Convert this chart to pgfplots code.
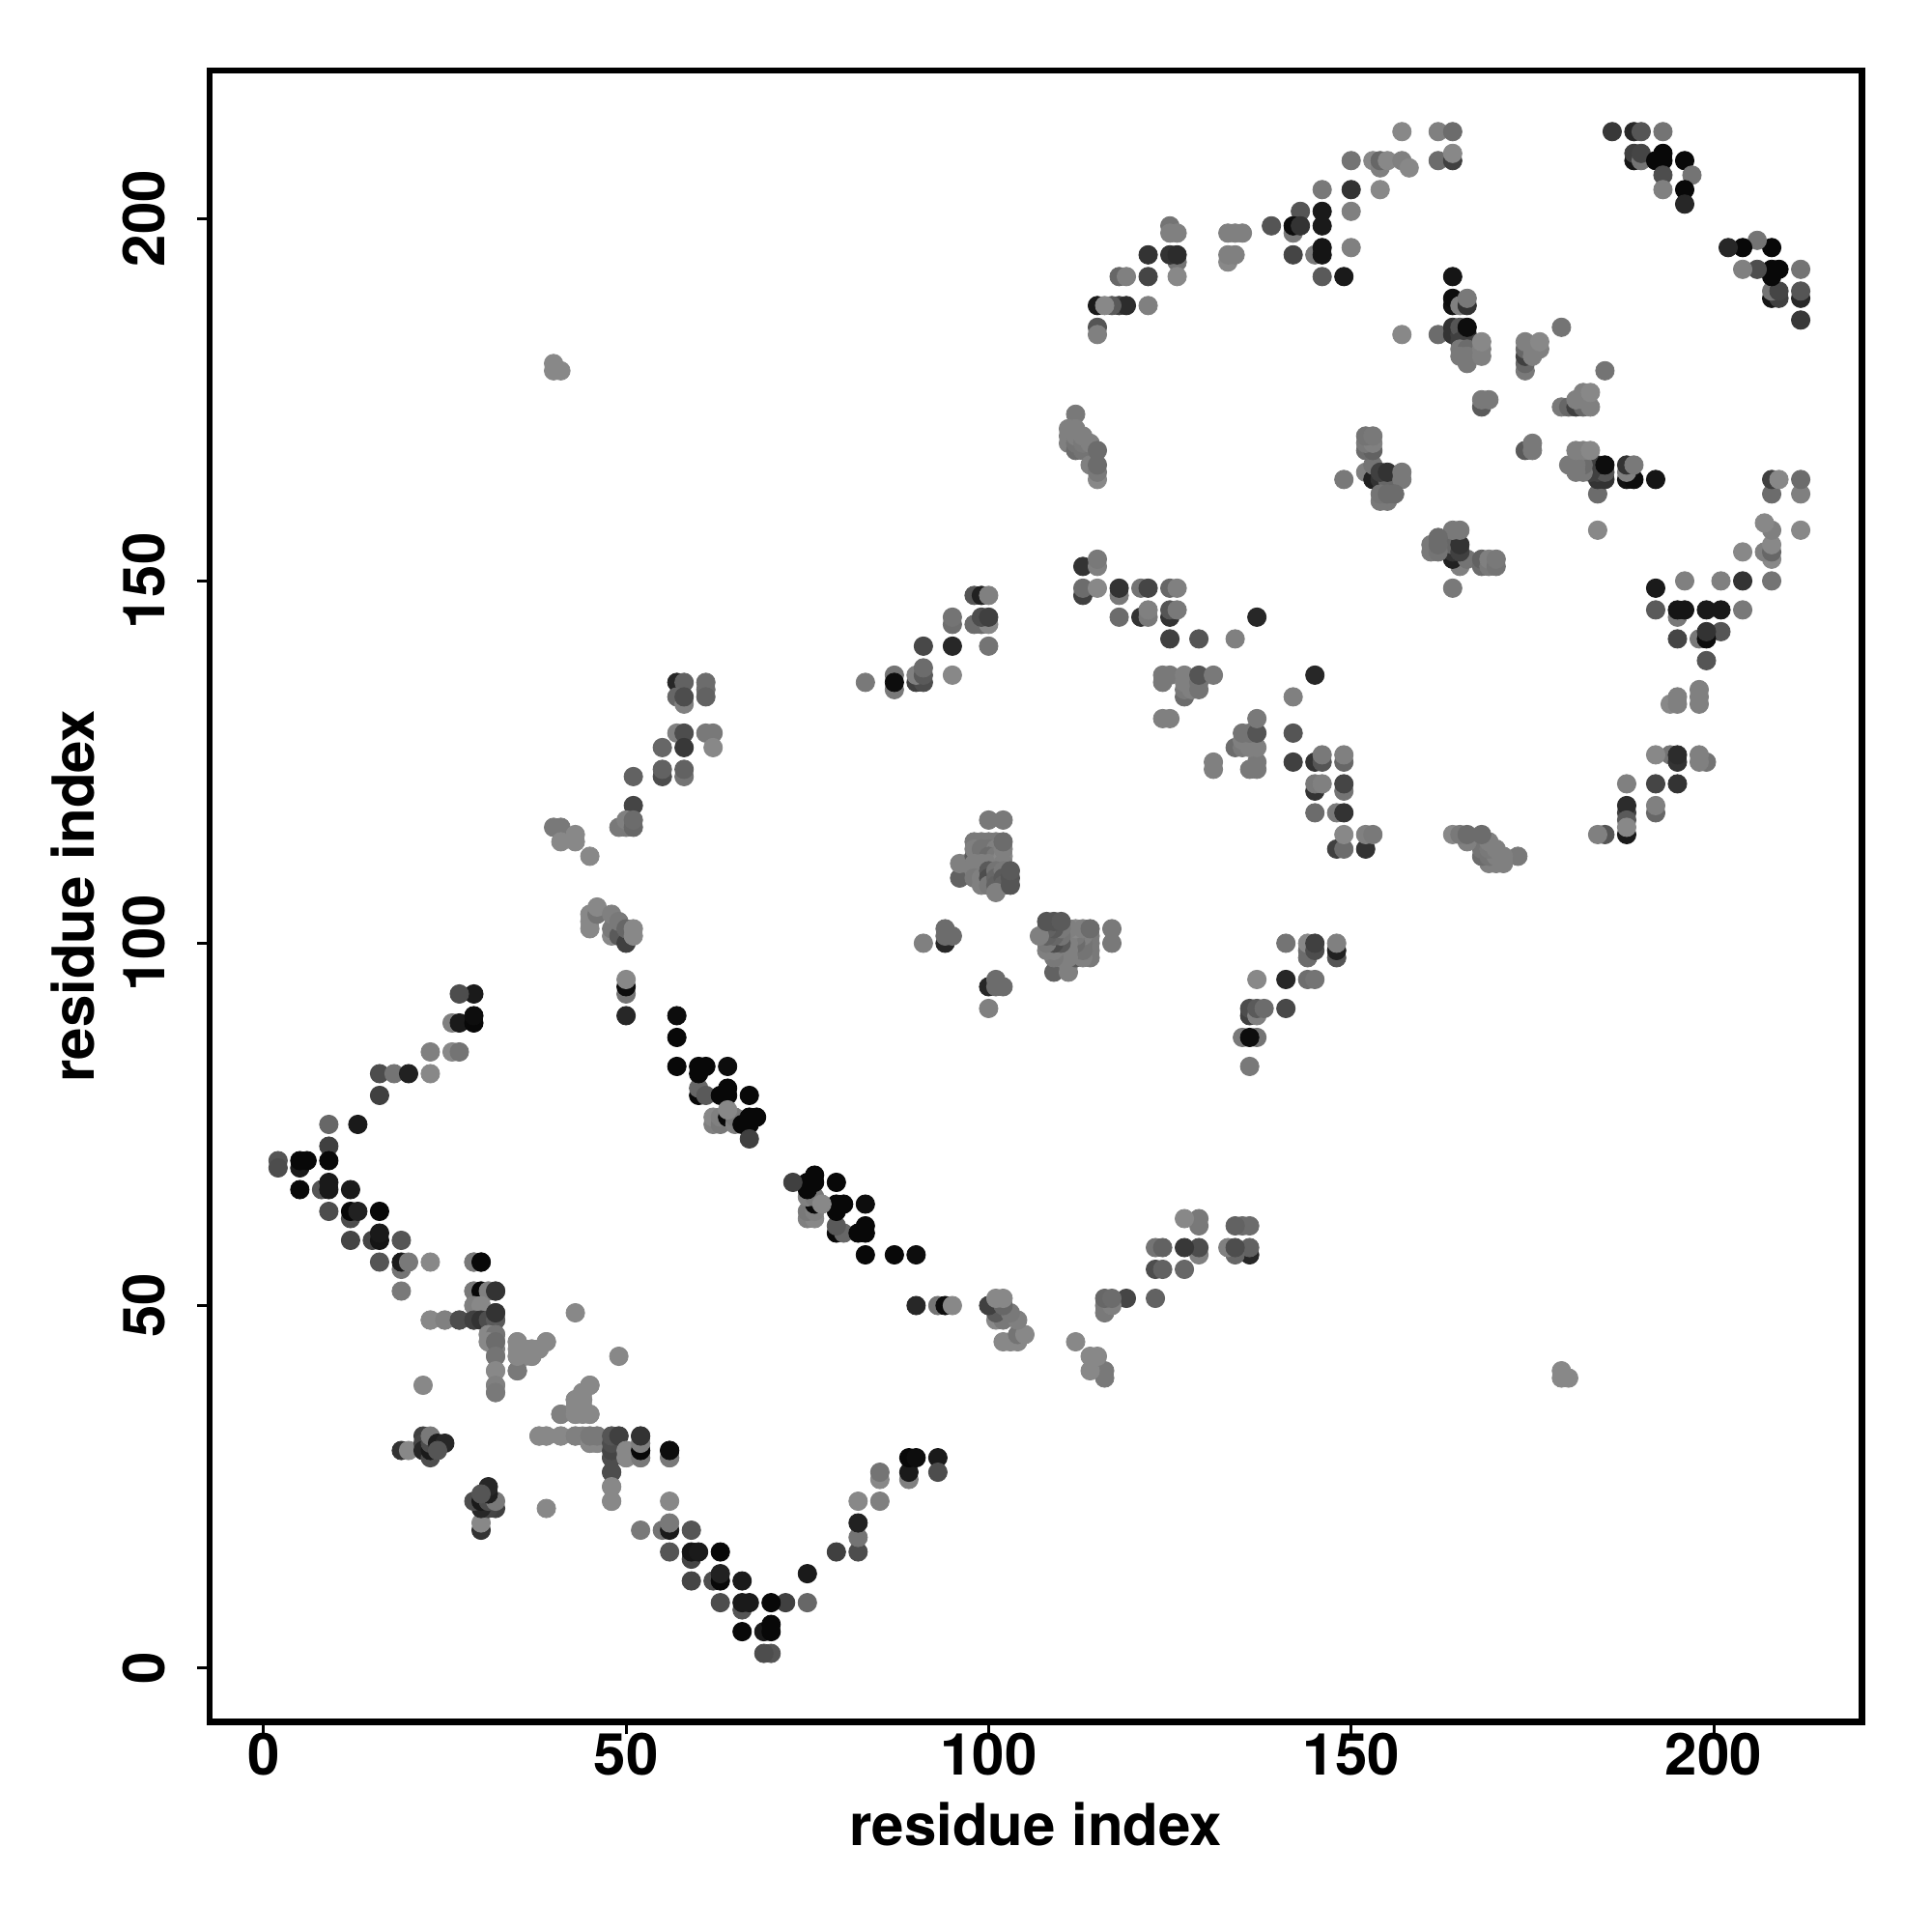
\documentclass[border=0pt]{standalone}
\usepackage{fontspec}
\setmainfont{TeX Gyre Heros}
\usepackage{pgfplots}
\usepackage{pgfplotstable}
\pgfplotsset{compat=1.18}
\pgfplotsset{colormap={greys}{gray(0cm)=(0); gray(1cm)=(1)}}

% contacts of the upper triangle: i j grey; the map is symmetric
\pgfplotstableread[row sep=\\]{
i j g\\
23 85 .5\\ 26 85 .53\\ 27 85 .45\\ 26 89 .5\\ 27 89 .1\\ 29 89 .03\\ 29 90 .05\\ 29 93 .1\\ 27 93 .3\\
16 82 .3\\ 18 82 .45\\ 20 82 .13\\ 23 82 .53\\ 16 79 .25\\ 9 75 .4\\ 13 75 .1\\ 9 72 .25\\
2 70 .33\\ 2 69 .3\\ 5 69 .1\\ 5 70 .03\\ 6 70 .03\\ 9 70 .03\\ 5 66 .03\\ 8 66 .33\\ 9 66 .1\\ 9 67 .1\\ 12 66 .1\\
9 63 .3\\ 12 62 .3\\ 12 63 .03\\ 13 63 .13\\ 16 63 .03\\ 12 59 .27\\ 15 59 .27\\ 16 59 .08\\ 16 60 .1\\ 19 59 .33\\
16 56 .33\\ 19 55 .45\\ 19 56 .1\\ 20 56 .47\\ 23 56 .53\\ 19 52 .47\\ 29 56 .47\\ 30 56 .03\\
29 52 .47\\ 30 52 .03\\ 31 52 .5\\ 32 52 .2\\ 29 50 .5\\ 30 50 .53\\
23 48 .53\\ 25 48 .5\\ 27 48 .3\\ 29 48 .25\\ 30 48 .2\\ 31 48 .3\\ 32 48 .35\\ 32 49 .2\\
31 46 .53\\ 32 46 .45\\ 31 45 .53\\ 32 45 .42\\ 32 43 .45\\ 32 41 .53\\ 32 39 .5\\ 32 38 .47\\
35 41 .47\\ 35 45 .53\\ 35 43 .53\\ 36 44 .53\\ 37 44 .53\\ 37 43 .53\\ 38 44 .53\\ 39 45 .53\\ 43 49 .53\\ 22 39 .53\\
19 30 .2\\ 20 30 .53\\ 22 32 .25\\ 22 31 .27\\ 22 30 .15\\ 23 29 .3\\ 23 30 .1\\ 23 31 .3\\ 23 32 .47\\ 24 31 .12\\ 25 31 .15\\ 24 30 .33\\
38 32 .53\\ 39 32 .53\\ 41 32 .53\\ 43 32 .5\\ 44 32 .5\\ 45 31 .53\\ 46 31 .53\\ 45 32 .47\\ 46 32 .47\\
41 35 .5\\ 43 35 .53\\ 44 35 .53\\ 45 35 .53\\ 43 36 .53\\ 44 36 .53\\ 43 37 .53\\ 44 37 .53\\ 44 38 .53\\ 45 39 .53\\
48 29 .3\\ 48 30 .27\\ 48 31 .3\\ 48 32 .33\\ 49 32 .25\\ 50 29 .53\\ 50 30 .53\\ 52 29 .47\\ 52 30 .03\\ 52 31 .5\\ 52 32 .2\\
48 27 .3\\ 48 25 .53\\ 48 23 .53\\ 56 29 .47\\ 56 30 .05\\
57 83 .03\\ 57 87 .03\\ 57 90 .05\\ 60 79 .03\\ 60 80 .4\\ 60 82 .03\\ 60 83 .03\\ 61 83 .03\\ 61 79 .35\\ 63 79 .03\\ 64 79 .03\\ 64 80 .03\\ 64 83 .05\\ 67 79 .03\\
62 75 .5\\ 62 76 .53\\ 63 75 .47\\ 63 76 .5\\ 64 76 .03\\ 65 75 .5\\ 65 76 .47\\ 64 77 .53\\ 66 75 .03\\ 67 75 .03\\ 67 76 .03\\ 68 76 .03\\ 67 73 .25\\
40 180 .53\\ 40 179 .53\\ 41 179 .53\\
57 136 .15\\ 58 136 .38\\ 57 134 .4\\ 58 133 .5\\ 58 134 .3\\ 61 136 .42\\ 61 135 .42\\ 61 134 .38\\
57 129 .5\\ 58 129 .3\\ 61 129 .47\\ 62 129 .47\\ 55 127 .4\\ 58 127 .22\\ 62 127 .53\\
51 123 .38\\ 55 123 .3\\ 55 124 .38\\ 58 123 .45\\ 58 124 .38\\ 51 119 .27\\
49 116 .47\\ 50 116 .47\\ 50 117 .5\\ 51 116 .4\\ 51 117 .42\\
40 116 .47\\ 41 116 .47\\ 43 115 .53\\ 41 114 .53\\ 43 114 .53\\ 45 112 .53\\
45 102 .53\\ 45 103 .53\\ 45 104 .53\\ 46 104 .45\\ 46 105 .53\\ 48 101 .53\\ 48 102 .47\\ 48 104 .5\\ 49 101 .35\\ 49 103 .47\\ 50 100 .25\\ 50 102 .4\\ 51 101 .53\\ 51 102 .53\\
50 93 .45\\ 50 94 .05\\ 50 95 .53\\ 50 90 .15\\
83 136 .47\\ 87 135 .47\\ 87 137 .45\\ 87 136 .05\\ 90 136 .25\\ 91 136 .3\\ 90 137 .5\\ 91 137 .35\\ 91 138 .42\\ 95 137 .53\\
91 141 .28\\ 95 141 .15\\ 100 141 .45\\ 95 144 .43\\ 95 145 .45\\ 98 144 .42\\ 99 144 .42\\ 100 144 .53\\ 99 145 .3\\ 100 145 .25\\
98 148 .33\\ 99 148 .13\\ 100 148 .5\\
91 100 .5\\ 94 100 .15\\ 94 101 .42\\ 94 102 .42\\ 95 101 .42\\
96 109 .38\\ 96 111 .5\\ 97 111 .5\\ 100 117 .47\\ 102 117 .47\\
98 114 .47\\ 99 114 .47\\ 100 114 .47\\ 101 114 .47\\ 98 112 .35\\ 99 112 .38\\ 98 113 .5\\ 99 113 .45\\ 100 113 .45\\ 101 113 .5\\ 100 112 .42\\ 101 112 .47\\
98 111 .5\\ 99 111 .5\\ 100 111 .5\\ 101 111 .5\\ 102 112 .53\\ 102 113 .5\\ 102 111 .5\\ 102 114 .42\\
98 110 .5\\ 99 110 .5\\ 98 109 .47\\ 99 109 .5\\ 99 108 .5\\ 100 110 .35\\ 100 109 .3\\ 100 108 .47\\ 101 110 .45\\ 101 109 .4\\ 101 108 .38\\ 102 110 .47\\ 102 109 .35\\ 102 108 .38\\ 101 107 .5\\ 103 108 .33\\ 103 109 .33\\ 103 110 .35\\
112 173 .47\\ 111 169 .5\\ 111 170 .5\\ 111 171 .5\\ 112 168 .42\\ 112 169 .45\\ 112 170 .5\\ 112 171 .5\\ 113 168 .45\\ 113 169 .47\\ 113 170 .5\\ 114 169 .5\\ 114 166 .5\\ 115 168 .42\\ 115 164 .53\\ 115 165 .47\\ 115 166 .42\\
113 152 .2\\ 115 152 .5\\ 115 153 .47\\ 113 148 .25\\ 113 149 .42\\ 115 149 .53\\ 118 148 .47\\ 118 149 .2\\ 121 149 .45\\ 122 149 .27\\ 125 149 .4\\ 126 149 .5\\
118 145 .42\\ 121 145 .2\\ 122 145 .47\\ 122 146 .5\\ 125 145 .2\\ 125 146 .33\\ 126 146 .47\\ 125 142 .25\\ 129 142 .33\\ 134 142 .5\\ 137 145 .15\\
124 136 .47\\ 124 137 .47\\ 125 137 .47\\ 127 134 .42\\ 127 135 .47\\ 127 136 .5\\ 127 137 .5\\ 128 135 .5\\ 129 135 .45\\ 129 136 .45\\ 129 137 .33\\ 131 137 .47\\ 124 131 .5\\ 125 131 .5\\
149 164 .47\\ 152 165 .5\\ 153 164 .13\\ 154 164 .2\\ 155 164 .4\\ 153 166 .45\\ 154 165 .25\\ 155 165 .2\\ 157 164 .47\\ 157 165 .47\\
152 168 .42\\ 153 168 .38\\ 152 169 .47\\ 153 169 .5\\ 152 170 .45\\ 153 170 .47\\ 154 161 .47\\ 155 161 .47\\ 154 162 .45\\ 155 162 .42\\ 156 162 .42\\
157 184 .53\\ 162 184 .42\\ 164 184 .2\\ 164 185 .2\\ 165 184 .25\\ 165 185 .33\\ 166 184 .15\\ 165 183 .25\\ 166 183 .25\\ 166 185 .05\\
165 182 .47\\ 166 182 .42\\ 165 181 .47\\ 166 181 .47\\ 166 180 .47\\ 168 181 .5\\ 168 182 .5\\ 168 183 .53\\
164 188 .07\\ 164 189 .05\\ 164 192 .08\\ 165 188 .5\\ 166 188 .2\\ 166 189 .47\\
174 179 .47\\ 174 180 .4\\ 174 181 .25\\ 174 182 .4\\ 174 183 .5\\ 175 181 .5\\ 175 182 .5\\ 176 182 .5\\ 176 183 .53\\ 179 185 .45\\
168 174 .35\\ 168 175 .47\\ 169 175 .47\\
157 212 .53\\ 162 212 .5\\ 164 212 .42\\ 150 208 .45\\ 153 208 .53\\ 154 207 .5\\ 154 208 .4\\ 155 208 .53\\ 157 208 .5\\ 158 207 .53\\ 162 208 .42\\ 164 208 .25\\ 164 209 .53\\
146 204 .47\\ 150 204 .2\\ 154 204 .53\\ 143 201 .33\\ 146 201 .1\\ 150 201 .5\\ 139 199 .33\\ 142 198 .47\\ 142 199 .05\\ 143 199 .2\\ 146 199 .1\\
145 195 .47\\ 146 195 .08\\ 146 196 .08\\ 150 196 .5\\ 142 195 .27\\ 146 192 .35\\ 149 192 .1\\
125 199 .45\\ 125 198 .5\\ 126 198 .5\\ 133 198 .5\\ 134 198 .5\\ 135 198 .5\\ 133 194 .53\\ 133 195 .5\\ 134 195 .5\\
122 195 .2\\ 126 194 .45\\ 125 195 .2\\ 126 195 .17\\ 126 192 .53\\ 122 192 .27\\ 118 192 .4\\ 119 192 .5\\
122 188 .5\\ 118 188 .25\\ 119 188 .17\\ 117 188 .35\\ 115 188 .1\\ 116 188 .53\\ 115 185 .33\\ 115 184 .5\\
186 212 .22\\ 189 212 .15\\ 190 212 .33\\ 193 212 .45\\ 189 208 .08\\ 189 209 .25\\ 190 208 .45\\ 190 209 .27\\ 192 208 .03\\ 193 208 .03\\ 193 209 .03\\ 196 208 .03\\
193 206 .3\\ 197 206 .45\\ 193 204 .5\\ 196 204 .03\\ 196 202 .15\\
}\contacts

\begin{document}
\begin{tikzpicture}[x=1pt,y=1pt]
\useasboundingbox (0,0) rectangle (1000,1000);
\begin{axis}[
  at={(108.5pt,108.8pt)},
  anchor=south west,
  scale only axis,
  width=855.2pt,
  height=854.7pt,
  xmin=-7.44, xmax=220.44,
  ymin=-7.44, ymax=220.44,
  xtick={0,50,...,200},
  ytick={0,50,...,200},
  axis line style={line width=3.2pt},
  tick style={line width=1.5pt,black},
  tick align=outside,
  major tick length=6.5pt,
  xtick pos=lower,
  ytick pos=left,
  /pgf/number format/assume math mode=true,
  tick label style={font=\fontsize{30}{32}\selectfont\bfseries},
  xticklabel style={anchor=center,yshift=-10.5pt},
  yticklabel style={anchor=center,xshift=-27.7pt,rotate=90},
  every axis x label/.style={at={(axis description cs:0.5,0)},anchor=center,yshift=-53pt},
  every axis y label/.style={at={(axis description cs:0,0.5)},anchor=center,xshift=-70.8pt,rotate=90},
  label style={font=\fontsize{30}{32}\selectfont\bfseries},
  xlabel={residue index},
  ylabel={residue index},
  point meta min=0,
  point meta max=1,
]
\addplot[only marks,scatter,mark=*,mark size=4.8pt,
  scatter src=explicit,
  scatter/use mapped color={draw=mapped color,fill=mapped color}]
  table[x index=1,y index=0,meta index=2]{\contacts};
\addplot[only marks,scatter,mark=*,mark size=4.8pt,
  scatter src=explicit,
  scatter/use mapped color={draw=mapped color,fill=mapped color}]
  table[x index=0,y index=1,meta index=2]{\contacts};
\end{axis}
\end{tikzpicture}
\end{document}
